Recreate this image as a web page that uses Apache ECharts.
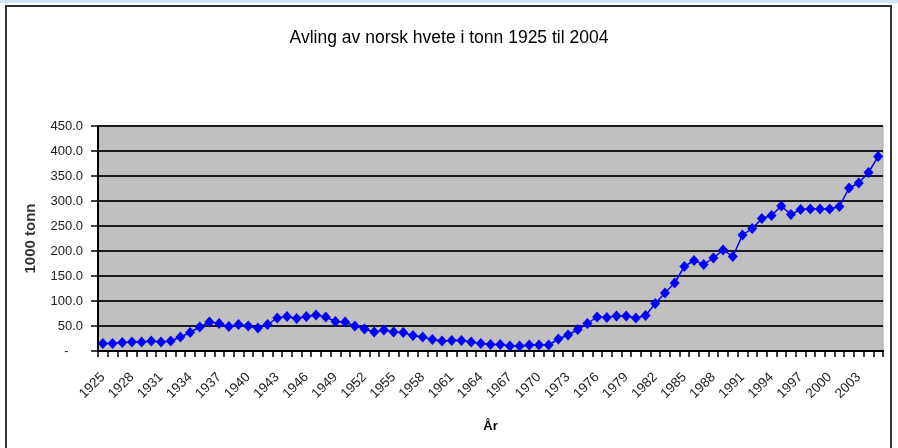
<!DOCTYPE html>
<html>
<head>
<meta charset="utf-8">
<script src="https://cdn.jsdelivr.net/npm/echarts@6/dist/echarts.min.js"></script>
<style>
  html, body { margin: 0; padding: 0; background: #fff; }
  #chart { width: 898px; height: 448px; }
</style>
</head>
<body>
<div id="chart"></div>
<script>
// år 1925 - 2005
const years = [];
for (let y = 1925; y <= 2005; y++) years.push(String(y));

// avling, 1000 tonn
const avling = [
  15, 15, 17, 18, 18, 20, 18, 20, 28, 37,
  48, 58, 55, 49, 53, 50, 46, 53, 66, 69,
  65, 69, 72, 68, 59, 58, 50, 44, 38, 42,
  38, 37, 31, 28, 23, 20, 21, 21, 18, 15,
  13, 13, 10, 10, 12, 12, 12, 24, 32, 43,
  55, 68, 67, 70, 70, 66, 71, 95, 116, 136,
  169, 181, 173, 186, 202, 189, 232, 245, 265, 271,
  290, 273, 283, 284, 284, 284, 289, 326, 336, 357,
  389
];

const yMax = 450;
const yStep = 50;

const font = 'Liberation Sans, Arial, sans-serif';

const myChart = echarts.init(document.getElementById('chart'));
myChart.setOption({
  backgroundColor: '#fff',
  animation: false,
  title: {
    text: 'Avling av norsk hvete i tonn 1925 til 2004',
    left: 'center',
    top: 24,
    textStyle: { fontFamily: font, fontSize: 17.5, fontWeight: 'normal', color: '#000' }
  },
  graphic: [
    { type: 'rect', shape: { x: 0, y: 0, width: 898, height: 3 }, style: { fill: '#d3e3f3' } },
    { type: 'rect', shape: { x: 6, y: 6, width: 885, height: 460 }, style: { fill: 'none', stroke: '#333', lineWidth: 2 } }
  ],
  grid: {
    left: 98, right: 15, top: 126, bottom: 97,
    show: true, backgroundColor: '#c0c0c0', borderColor: '#a8a8a8', borderWidth: 1
  },
  xAxis: {
    type: 'category',
    data: years,
    boundaryGap: true,
    name: 'År',
    nameLocation: 'middle',
    nameGap: 69,
    nameTextStyle: { fontFamily: font, fontSize: 13, fontWeight: 'bold', color: '#000' },
    axisLine: { lineStyle: { color: '#000', width: 2 } },
    axisTick: { show: true, interval: 0, length: 6, lineStyle: { color: '#000', width: 1.5 } },
    axisLabel: {
      interval: 2, rotate: 45, margin: 24,
      fontFamily: font, fontSize: 13.5, color: '#222'
    },
    splitLine: { show: false }
  },
  yAxis: {
    type: 'value',
    min: 0, max: yMax, interval: yStep,
    name: '1000 tonn',
    nameLocation: 'middle',
    nameGap: 60,
    nameRotate: 90,
    nameTextStyle: { fontFamily: font, fontSize: 15, fontWeight: 'bold', color: '#333' },
    axisLine: { show: true, lineStyle: { color: '#000', width: 2 } },
    axisTick: { show: true, length: 7, lineStyle: { color: '#000', width: 1.5 } },
    axisLabel: {
      margin: 15, fontFamily: font, fontSize: 13, color: '#222',
      formatter: v => v === 0 ? '-    ' : v.toFixed(1)
    },
    splitLine: { show: true, lineStyle: { color: '#1a1a1a', width: 2 } }
  },
  series: [{
    type: 'line',
    data: avling,
    color: '#0000ff',
    symbol: 'diamond',
    symbolSize: [10, 11],
    showAllSymbol: true,
    lineStyle: { color: '#0000ff', width: 1.5 },
    itemStyle: { color: '#0000ff' }
  }]
});
</script>
</body>
</html>
